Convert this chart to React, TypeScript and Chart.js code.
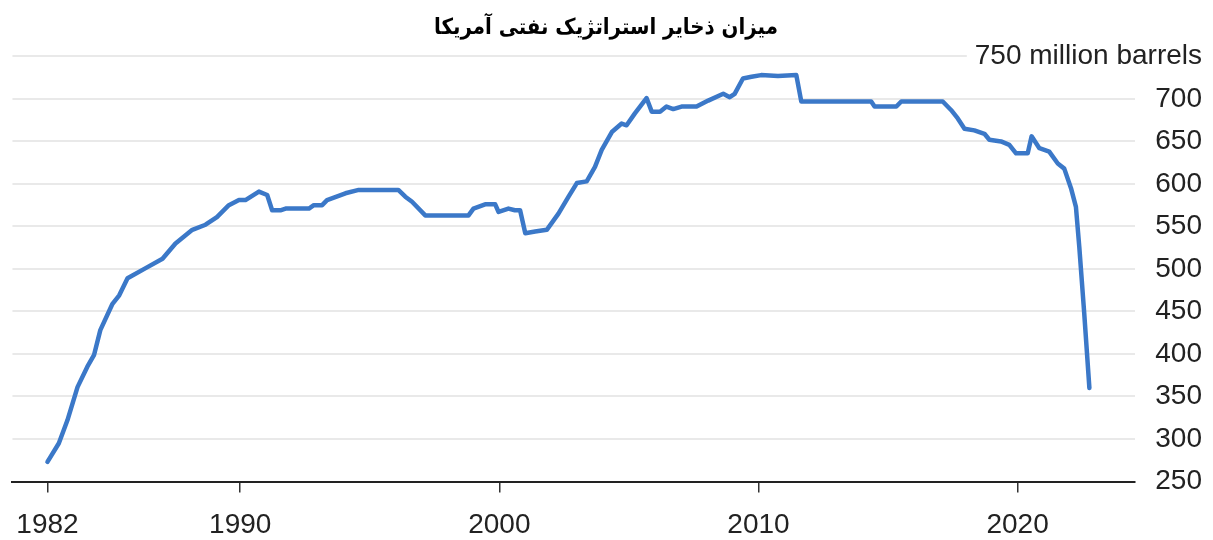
import { useEffect, useRef } from 'react';
import { Chart, registerables } from 'chart.js';

Chart.register(...registerables);

const chartTitle = 'میزان ذخایر استراتژیک نفتی آمریکا';
const unitLabel = '750 million barrels';

const years = [
  1982.56, 1983.0, 1983.33, 1983.72, 1984.1, 1984.36, 1984.6, 1985.07, 1985.33, 1985.65,
  1986.35, 1987.0, 1987.5, 1988.15, 1988.66, 1989.1, 1989.56, 1989.95, 1990.2, 1990.72,
  1991.04, 1991.23, 1991.55, 1991.75, 1992.65, 1992.84, 1993.16, 1993.35, 1994.06, 1994.57,
  1996.1, 1996.37, 1996.63, 1997.14, 1998.81, 1999.0, 1999.45, 1999.84, 1999.97, 2000.35,
  2000.6, 2000.8, 2001.0, 2001.38, 2001.83, 2002.28, 2002.67, 2002.99, 2003.37, 2003.69,
  2003.95, 2004.34, 2004.72, 2004.91, 2005.23, 2005.68, 2005.88, 2006.2, 2006.45, 2006.71,
  2007.03, 2007.61, 2008.06, 2008.64, 2008.89, 2009.08, 2009.4, 2009.73, 2010.1, 2010.75,
  2011.46, 2011.65, 2014.35, 2014.48, 2015.32, 2015.51, 2017.11, 2017.43, 2017.69, 2017.95,
  2018.33, 2018.72, 2018.91, 2019.36, 2019.68, 2019.94, 2020.39, 2020.54, 2020.84, 2021.22,
  2021.55, 2021.8, 2022.06, 2022.25, 2022.38, 2022.57, 2022.77,
];

const reserves = [
  273, 295, 322, 361, 385, 399, 428, 459, 469, 489,
  501, 512, 530, 546, 552, 561, 575, 581, 581, 591,
  587, 569, 569, 571, 571, 575, 575, 581, 589, 593,
  593, 585, 579, 563, 563, 571, 576, 576, 567, 571,
  569, 569, 542, 544, 546, 565, 585, 601, 603, 620,
  640, 661, 671, 669, 683, 701, 685, 685, 691, 688,
  691, 691, 698, 706, 702, 706, 724, 726, 728, 727,
  728, 697, 697, 691, 691, 697, 697, 687, 677, 665,
  663, 659, 652, 650, 646, 636, 636, 656, 642, 638,
  624, 618, 595, 573, 526, 448, 360,
];

const yTickValues = [250, 300, 350, 400, 450, 500, 550, 600, 650, 700, 750];
const xTickYears = [1982.56, 1990, 2000, 2010, 2020];
const xTickLabels = ['1982', '1990', '2000', '2010', '2020'];

export default function App() {
  const ref = useRef<HTMLCanvasElement>(null);

  useEffect(() => {
    if (!ref.current) return;
    const chart = new Chart(ref.current, {
      type: 'line',
      data: {
        datasets: [
          {
            data: years.map((y, i) => ({ x: y, y: reserves[i] })),
            borderColor: '#3b78c8',
            borderWidth: 4.5,
            pointRadius: 0,
            tension: 0,
            borderJoinStyle: 'round',
            borderCapStyle: 'round',
          },
        ],
      },
      options: {
        animation: false,
        responsive: true,
        maintainAspectRatio: false,
        layout: { padding: { left: 10, right: 11, top: 0, bottom: 0 } },
        plugins: {
          legend: { display: false },
          tooltip: { enabled: false },
          title: {
            display: true,
            text: chartTitle,
            color: '#000',
            font: { family: 'DejaVu Sans Condensed, DejaVu Sans', size: 22, weight: 'bold' },
            padding: { top: 15, bottom: 15 },
          },
        },
        scales: {
          x: {
            type: 'linear',
            min: 1981.21,
            max: 2024.53,
            afterBuildTicks: (s: any) => {
              s.ticks = xTickYears.map((v) => ({ value: v }));
            },
            afterFit: (s: any) => {
              s.height = 58.5;
            },
            ticks: {
              autoSkip: false,
              maxRotation: 0,
              padding: 16,
              color: '#222',
              font: { family: 'Liberation Sans', size: 28 },
              callback: (_v: any, i: number) => xTickLabels[i],
            },
            grid: {
              display: true,
              drawOnChartArea: false,
              drawTicks: true,
              tickLength: 11,
              color: '#333',
              lineWidth: 1.5,
            },
            border: { display: true, color: '#222', width: 2 },
          },
          y: {
            position: 'right',
            min: 250,
            max: 750,
            afterBuildTicks: (s: any) => {
              s.ticks = yTickValues.map((v) => ({ value: v }));
            },
            afterFit: (s: any) => {
              s.width = 67;
              s.paddingTop = 0;
              s.paddingBottom = 0;
            },
            ticks: {
              mirror: true,
              crossAlign: 'near',
              padding: 67,
              color: '#222',
              font: { family: 'Liberation Sans', size: 28 },
              callback: (v: any) => (v === 750 ? unitLabel : String(v)),
              showLabelBackdrop: true,
              backdropColor: '#ffffff',
              backdropPadding: { left: 8, right: 0, top: 0, bottom: 0 },
            },
            grid: {
              drawTicks: false,
              lineWidth: 2,
              color: (c: any) => (c.tick && c.tick.value === 250 ? 'rgba(0,0,0,0)' : '#e9e9e9'),
            },
            border: { display: false },
          },
        },
      },
    });
    return () => chart.destroy();
  }, []);

  return (
    <div style={{ position: 'fixed', left: 0, top: 0, width: 1213, height: 540, background: '#fff' }}>
      <canvas ref={ref} />
    </div>
  );
}
